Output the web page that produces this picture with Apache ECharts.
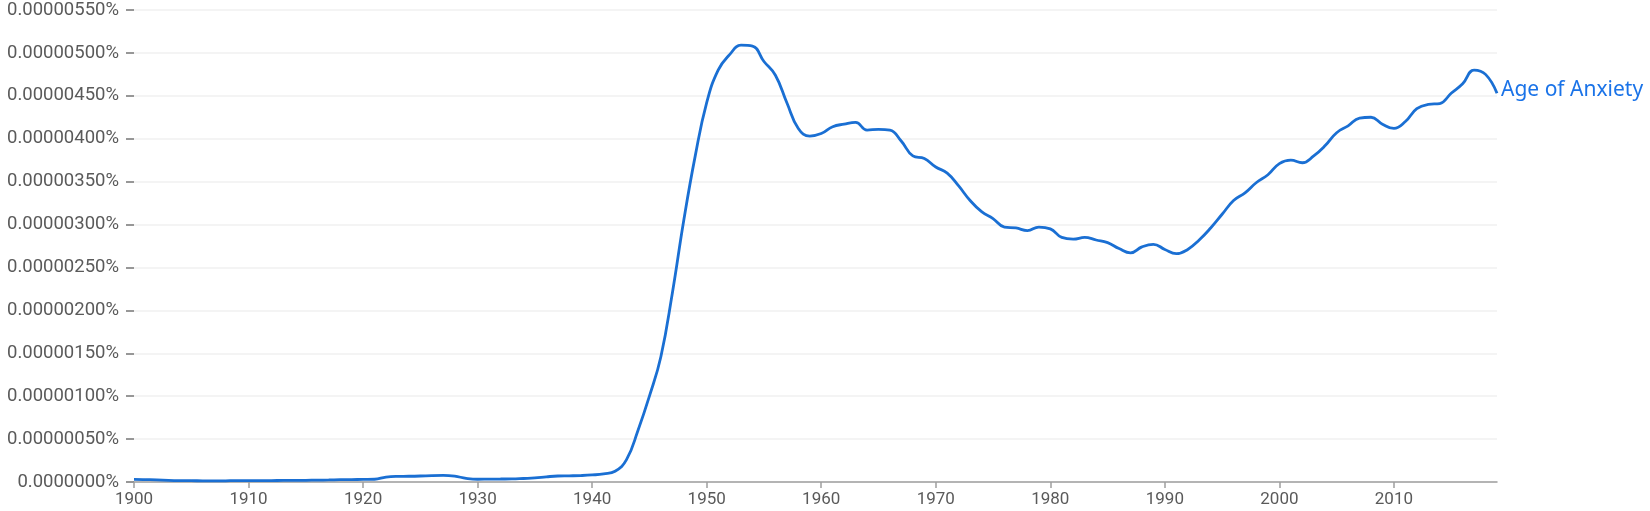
<!DOCTYPE html>
<html>
<head>
<meta charset="utf-8">
<script src="https://cdn.jsdelivr.net/npm/echarts@6/dist/echarts.min.js"></script>
<style>
html,body{margin:0;padding:0;background:#fff;}
#chart{width:1650px;height:511px;}
</style>
</head>
<body>
<div id="chart"></div>
<script>
// Years 1900..2019
const years = [];
for (let y = 1900; y <= 2019; y++) years.push(String(y));

const seriesName = 'Age of Anxiety';

// values in units of 0.000001 %
const v1900s = [0.031,0.028,0.025,0.020,0.017,0.016,0.013,0.012,0.014,0.016];
const v1910s = [0.015,0.015,0.017,0.018,0.019,0.020,0.022,0.024,0.027,0.028];
const v1920s = [0.030,0.032,0.058,0.066,0.067,0.070,0.075,0.077,0.068,0.043];
const v1930s = [0.032,0.034,0.035,0.036,0.041,0.047,0.060,0.070,0.072,0.075];
const v1940s = [0.082,0.095,0.125,0.26,0.60,1.00,1.46,2.20,3.05,3.80];
const v1950s = [4.42,4.80,4.98,5.09,5.08,4.90,4.74,4.42,4.12,4.03];
const v1960s = [4.06,4.14,4.17,4.19,4.10,4.11,4.10,3.97,3.80,3.77];
const v1970s = [3.67,3.60,3.45,3.28,3.15,3.07,2.97,2.96,2.93,2.97];
const v1980s = [2.95,2.85,2.83,2.85,2.82,2.79,2.72,2.67,2.74,2.77];
const v1990s = [2.71,2.66,2.71,2.82,2.96,3.12,3.28,3.37,3.49,3.58];
const v2000s = [3.71,3.75,3.72,3.80,3.92,4.07,4.15,4.24,4.25,4.17];
const v2010s = [4.12,4.20,4.35,4.40,4.41,4.53,4.64,4.80,4.75,4.53];

const unit = 1e-6; // percent per unit
const values = [].concat(v1900s,v1910s,v1920s,v1930s,v1940s,v1950s,v1960s,v1970s,v1980s,v1990s,v2000s,v2010s)
  .map(v => +(v * unit).toPrecision(6));

const yTickStep = 0.0000005;
const yMax = 0.0000055;

const chart = echarts.init(document.getElementById('chart'), null, {renderer:'canvas'});
chart.setOption({
  animation: false,
  backgroundColor: '#ffffff',
  grid: {left: 134, right: 153, top: 10, bottom: 29, containLabel: false},
  xAxis: {
    type: 'category',
    data: years,
    boundaryGap: false,
    axisLine: {show: true, lineStyle: {color: '#9e9e9e', width: 1.5}},
    axisTick: {show: true, interval: 9, length: 6, lineStyle: {color: '#9e9e9e', width: 1.5}},
    axisLabel: {interval: 9, color: '#5a5a5a', fontFamily: 'Roboto', fontSize: 17, margin: 9},
    splitLine: {show: false}
  },
  yAxis: {
    type: 'value',
    min: 0,
    max: yMax,
    interval: yTickStep,
    axisLine: {show: false},
    axisTick: {show: true, length: 8, lineStyle: {color: '#757575', width: 1.5}},
    axisLabel: {
      color: '#5a5a5a', fontFamily: 'Roboto', fontSize: 18.5, margin: 15,
      formatter: function (v) {
        if (Math.abs(v) < 1e-12) return '0.0000000%';
        return v.toFixed(8) + '%';
      }
    },
    splitLine: {show: true, lineStyle: {color: '#f1f1f1', width: 1.5}}
  },
  series: [{
    name: seriesName,
    type: 'line',
    data: values,
    smooth: 0.45,
    symbol: 'none',
    lineStyle: {color: '#1a6fd3', width: 2.8},
    endLabel: {
      show: true,
      formatter: seriesName,
      color: '#1a73e8',
      fontFamily: 'Noto Sans',
      fontSize: 21,
      distance: 4,
      offset: [0, -3]
    }
  }]
});
</script>
</body>
</html>
